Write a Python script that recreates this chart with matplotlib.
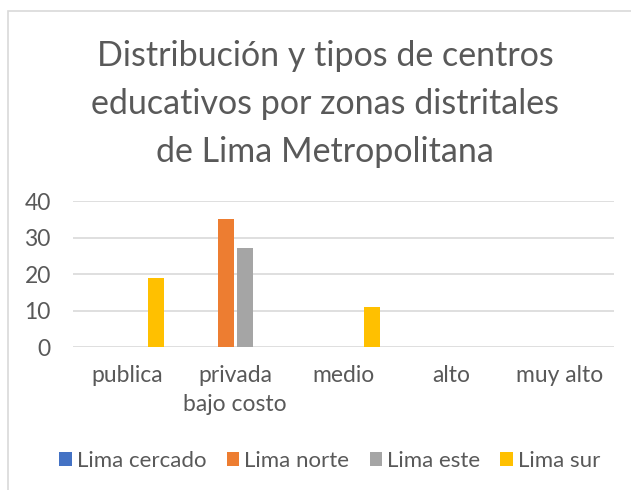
import matplotlib
matplotlib.use("Agg")
import matplotlib.pyplot as plt
import numpy as np
from matplotlib.patches import Rectangle

categories = ["publica", "privada\nbajo costo", "medio", "alto", "muy alto"]
series_names = ["Lima cercado", "Lima norte", "Lima este", "Lima sur"]
lima_cercado = [0, 0, 0, 0, 0]
lima_norte = [0, 35, 0, 0, 0]
lima_este = [0, 27, 0, 0, 0]
lima_sur = [19, 0, 11, 0, 0]
y_ticks = [0, 10, 20, 30, 40]

colors = ["#4472C4", "#ED7D31", "#A5A5A5", "#FFC000"]
text_color = "#595959"
font = ["Lato", "DejaVu Sans"]
plt.rcParams["font.family"] = font

W, H = 631, 490
fig = plt.figure(figsize=(W / 100, H / 100), dpi=100)

# chart-area border
fig.patches.append(Rectangle((8 / W, -0.1), 1.2, (H - 11) / H + 0.1,
                             transform=fig.transFigure, fill=False,
                             edgecolor="#D9D9D9", linewidth=1.2))

ax = fig.add_axes([73 / W, (H - 347) / H, (614 - 73) / W, (347 - 201) / H])

data = [lima_cercado, lima_norte, lima_este, lima_sur]
x = np.arange(len(categories))
bar_w = 16 / 108.2
step = 19 / 108.2
for i, (vals, name, c) in enumerate(zip(data, series_names, colors)):
    ax.bar(x + (i - 1.5) * step, vals, width=bar_w, color=c, label=name, zorder=3)

ax.set_xlim(-0.5, len(categories) - 0.5)
ax.set_ylim(0, 40)
ax.set_yticks(y_ticks)
ax.set_xticks(x)
ax.set_xticklabels(categories, linespacing=1.45)
ax.tick_params(axis="both", length=0, labelsize=16.5, colors=text_color)
ax.tick_params(axis="y", pad=16)
ax.tick_params(axis="x", pad=13)
ax.grid(axis="y", color="#D9D9D9", linewidth=1.2, zorder=0)
for s in ax.spines.values():
    s.set_visible(False)

fig.text(325 / W, 1 - 104 / H,
         "Distribución y tipos de centros\neducativos por zonas distritales\nde Lima Metropolitana",
         ha="center", va="center", fontsize=24.5, color=text_color, linespacing=1.6)

leg = fig.legend(loc="center", bbox_to_anchor=(330 / W, 1 - 461 / H), ncol=4,
                 frameon=False, fontsize=16, handlelength=0.55, handleheight=0.55,
                 handletextpad=0.25, columnspacing=0.9, labelcolor=text_color)

fig.savefig("out.png", dpi=100)
